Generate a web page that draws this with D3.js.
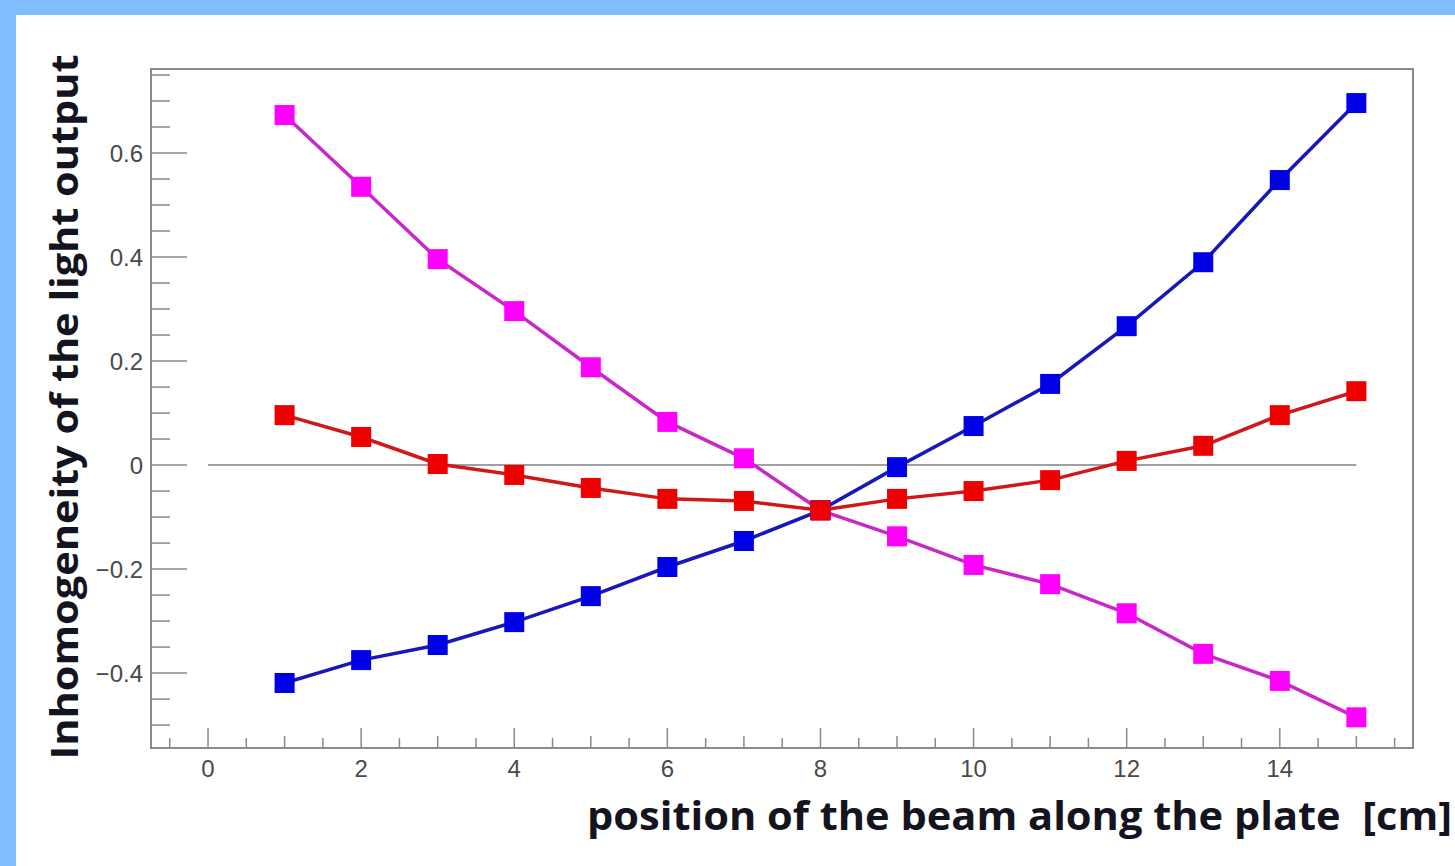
<html>
<head>
<meta charset="utf-8">
<script src="https://d3js.org/d3.v7.min.js"></script>
<style>
  body { margin: 0; background: #80bfff; }
  .tick-label { font-family: "Liberation Sans", Arial, sans-serif; font-size: 24px; fill: #4a4a4a; }
  .axis-title { font-family: "Open Sans", "Noto Sans", sans-serif; font-weight: bold; fill: #141420; }
</style>
</head>
<body>
<div id="chart"></div>
<script>
// positions along the plate (cm)
const positions = [1, 2, 3, 4, 5, 6, 7, 8, 9, 10, 11, 12, 13, 14, 15];
const magentaValues = [0.673, 0.535, 0.396, 0.296, 0.188, 0.083, 0.013, -0.087, -0.137, -0.192, -0.229, -0.285, -0.363, -0.415, -0.485];
const blueValues = [-0.419, -0.375, -0.346, -0.302, -0.252, -0.196, -0.146, -0.087, -0.004, 0.075, 0.156, 0.267, 0.390, 0.548, 0.696];
const redValues = [0.096, 0.054, 0.002, -0.019, -0.044, -0.065, -0.069, -0.087, -0.065, -0.050, -0.029, 0.008, 0.037, 0.096, 0.142];
const xTickValues = [0, 2, 4, 6, 8, 10, 12, 14];
const yTickValues = [-0.4, -0.2, 0, 0.2, 0.4, 0.6];

const W = 1455, H = 866;
const svg = d3.select("#chart").append("svg").attr("width", W).attr("height", H);

// light blue frame with white panel
svg.append("rect").attr("width", W).attr("height", H).attr("fill", "#80bfff");
svg.append("rect").attr("x", 16).attr("y", 15).attr("width", W - 16).attr("height", H - 15).attr("fill", "#fff");

const box = { left: 151, top: 69, right: 1413, bottom: 748 };
const x = d3.scaleLinear().domain([-0.745, 15.74]).range([box.left, box.right]);
const y = d3.scaleLinear().domain([-0.544, 0.7615]).range([box.bottom, box.top]);

// frame of the plot
svg.append("rect")
  .attr("x", box.left).attr("y", box.top)
  .attr("width", box.right - box.left).attr("height", box.bottom - box.top)
  .attr("fill", "none").attr("stroke", "#8a8a8a").attr("stroke-width", 2);

// y ticks, ROOT style: major every 0.2, minor every 0.05
const yMinor = d3.range(-0.5, 0.76, 0.05);
svg.append("g").selectAll("line").data(yMinor).join("line")
  .attr("x1", box.left).attr("x2", d => Math.abs(Math.round(d * 20) % 4) === 0 ? box.left + 36 : box.left + 19)
  .attr("y1", d => y(d)).attr("y2", d => y(d))
  .attr("stroke", "#8a8a8a").attr("stroke-width", 1.5);

svg.append("g").selectAll("text").data(yTickValues).join("text")
  .attr("class", "tick-label")
  .attr("x", box.left - 8).attr("y", d => y(d)).attr("dy", "0.36em")
  .attr("text-anchor", "end")
  .text(d => d === 0 ? "0" : d3.format(".1f")(d).replace("-", "\u2212"));

// x ticks: major every 2, medium every 1, minor every 0.5
const xMinor = d3.range(-0.5, 15.6, 0.5);
svg.append("g").selectAll("line").data(xMinor).join("line")
  .attr("x1", d => x(d)).attr("x2", d => x(d))
  .attr("y1", box.bottom)
  .attr("y2", d => d % 2 === 0 ? box.bottom - 20 : (d % 1 === 0 ? box.bottom - 12 : box.bottom - 10))
  .attr("stroke", "#8a8a8a").attr("stroke-width", 1.5);

svg.append("g").selectAll("text").data(xTickValues).join("text")
  .attr("class", "tick-label")
  .attr("x", d => x(d)).attr("y", box.bottom + 29)
  .attr("text-anchor", "middle")
  .text(d => d);

// zero reference line
svg.append("line")
  .attr("x1", x(0)).attr("x2", x(15))
  .attr("y1", y(0)).attr("y2", y(0))
  .attr("stroke", "#a0a0a0").attr("stroke-width", 2);

const line = d3.line().x(d => x(d[0])).y(d => y(d[1]));

function drawSeries(values, lineColor, markerColor) {
  const pts = positions.map((p, i) => [p, values[i]]);
  svg.append("path").datum(pts)
    .attr("d", line)
    .attr("fill", "none")
    .attr("stroke", lineColor)
    .attr("stroke-width", 3.5);
  svg.append("g").selectAll("rect").data(pts).join("rect")
    .attr("x", d => x(d[0]) - 10).attr("y", d => y(d[1]) - 10)
    .attr("width", 20).attr("height", 20)
    .attr("fill", markerColor);
}

drawSeries(magentaValues, "#c828c8", "#ff00ff");
drawSeries(blueValues, "#1818b8", "#0000e6");
drawSeries(redValues, "#d01818", "#ee0000");

// axis titles
svg.append("text")
  .attr("class", "axis-title")
  .attr("transform", "translate(78,407) rotate(-90)")
  .attr("text-anchor", "middle")
  .attr("textLength", 705)
  .attr("lengthAdjust", "spacingAndGlyphs")
  .style("font-size", "38px")
  .text("Inhomogeneity of the light output");

svg.append("text")
  .attr("class", "axis-title")
  .attr("x", 587).attr("y", 830)
  .attr("textLength", 865)
  .attr("lengthAdjust", "spacingAndGlyphs")
  .style("font-size", "39px")
  .attr("xml:space", "preserve")
  .text("position of the beam along the plate  [cm]");
</script>
</body>
</html>
